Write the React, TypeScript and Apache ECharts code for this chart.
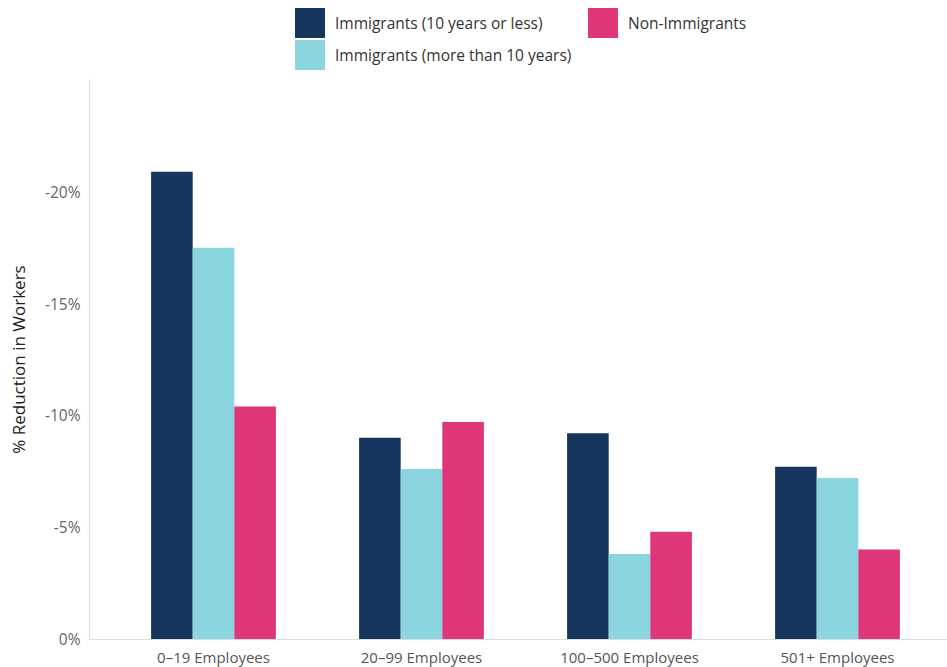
import React, { useEffect, useRef } from "react";
import * as echarts from "echarts";

const categories = ["0–19 Employees", "20–99 Employees", "100–500 Employees", "501+ Employees"];
const recentImmigrants = [-20.9, -9.0, -9.2, -7.7];
const longTermImmigrants = [-17.5, -7.6, -3.8, -7.2];
const nonImmigrants = [-10.4, -9.7, -4.8, -4.0];
const seriesNames = ["Immigrants (10 years or less)", "Immigrants (more than 10 years)", "Non-Immigrants"];
const colors = ["#16355C", "#8BD5DE", "#DF367A"];

const FONT = "'Open Sans', Lato, sans-serif";

export default function App() {
  const ref = useRef<HTMLDivElement>(null);
  useEffect(() => {
    if (!ref.current) return;
    const chart = echarts.init(ref.current, undefined, { renderer: "svg" });
    const legendText = { color: "#333", fontSize: 15.5, fontFamily: FONT, padding: [0, 0, 0, 5] };
    chart.setOption({
      animation: false,
      backgroundColor: "#fff",
      textStyle: { fontFamily: FONT },
      legend: [
        {
          data: [seriesNames[0], seriesNames[1]],
          orient: "vertical",
          left: 295,
          top: 8,
          padding: 0,
          itemWidth: 30,
          itemHeight: 30,
          itemGap: 2,
          icon: "rect",
          selectedMode: false,
          textStyle: legendText,
        },
        {
          data: [seriesNames[2]],
          orient: "vertical",
          left: 588,
          top: 8,
          padding: 0,
          itemWidth: 30,
          itemHeight: 30,
          icon: "rect",
          selectedMode: false,
          textStyle: legendText,
        },
      ],
      grid: { left: 109.5, top: 80, width: 832, height: 559, containLabel: false },
      xAxis: {
        type: "category",
        data: categories,
        axisLine: { show: false },
        axisTick: { show: false },
        axisLabel: { color: "#555", fontSize: 15, margin: 10, fontFamily: FONT },
      },
      yAxis: {
        type: "value",
        inverse: true,
        min: -25,
        max: 0,
        interval: 5,
        offset: 20,
        name: "% Reduction in Workers",
        nameLocation: "middle",
        nameGap: 63,
        nameTextStyle: { color: "#222", fontSize: 17, fontFamily: FONT },
        axisLine: { show: true, lineStyle: { color: "#DDDDDD", width: 1 } },
        axisTick: { show: false },
        splitLine: { show: false },
        axisLabel: {
          color: "#666",
          fontSize: 15.5,
          margin: 9,
          fontFamily: FONT,
          formatter: (v: number) => (v === -25 ? "" : `${v}%`),
        },
      },
      graphic: [
        {
          type: "line",
          shape: { x1: 89, y1: 639.5, x2: 947, y2: 639.5 },
          style: { stroke: "#DDDDDD", lineWidth: 1 },
          z: 10,
        },
      ],
      series: [
        { name: seriesNames[0], type: "bar", data: recentImmigrants, itemStyle: { color: colors[0] }, barGap: "0%", barCategoryGap: "40%" },
        { name: seriesNames[1], type: "bar", data: longTermImmigrants, itemStyle: { color: colors[1] }, barGap: "0%", barCategoryGap: "40%" },
        { name: seriesNames[2], type: "bar", data: nonImmigrants, itemStyle: { color: colors[2] }, barGap: "0%", barCategoryGap: "40%" },
      ],
    });
    return () => chart.dispose();
  }, []);
  return (
    <div
      ref={ref}
      style={{ position: "fixed", left: 0, top: 0, width: 947, height: 667, background: "#fff" }}
    />
  );
}
